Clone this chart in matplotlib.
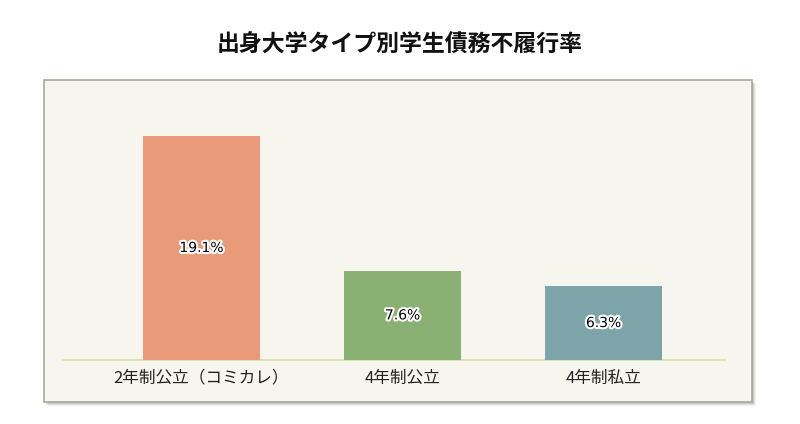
import matplotlib
matplotlib.use("Agg")
import matplotlib.pyplot as plt
from matplotlib.patches import Rectangle
import matplotlib.patheffects as pe

plt.rcParams['font.family'] = ['Noto Sans CJK JP', 'DejaVu Sans']

categories = ['2年制公立（コミカレ）', '4年制公立', '4年制私立']
values = [19.1, 7.6, 6.3]
value_labels = ['19.1%', '7.6%', '6.3%']
colors = ['#E99A78', '#8BB073', '#7CA4A9']
title = '出身大学タイプ別学生債務不履行率'

W, H = 800, 424
fig = plt.figure(figsize=(W / 100, H / 100), dpi=100)

def fx(x):
    return x / W

def fy(y):
    return 1 - y / H

# shadow
for i, a in enumerate([0.10, 0.15, 0.25]):
    off = 4 - i
    fig.patches.append(Rectangle((fx(44 + off), fy(402 + off)), fx(752 - 44), (402 - 80) / H,
                                 transform=fig.transFigure, facecolor='#808078', alpha=a,
                                 edgecolor='none', zorder=0))
# plot area box
fig.patches.append(Rectangle((fx(44), fy(402)), fx(752 - 44), (402 - 80) / H,
                             transform=fig.transFigure, facecolor='#F7F6EE',
                             edgecolor='#A8A8A0', linewidth=1.2, zorder=1))

# data axes
x0, x1 = 63, 725
ytop, ybase = 100, 360
ax = fig.add_axes([fx(x0), fy(ybase), fx(x1 - x0), (ybase - ytop) / H], zorder=2)
ax.patch.set_visible(False)
px_per_unit = 201.0
c0 = 201.5
ax.set_xlim((x0 - c0) / px_per_unit, (x1 - c0) / px_per_unit)
ax.set_ylim(0, (ybase - ytop) / 11.73)

xs = list(range(len(categories)))
bars = ax.bar(xs, values, width=117 / px_per_unit, color=colors, zorder=3)
for x, v, lab in zip(xs, values, value_labels):
    ax.text(x, v / 2, lab, ha='center', va='center', fontsize=10,
            family=['DejaVu Sans'], color='black', zorder=4,
            path_effects=[pe.withStroke(linewidth=3, foreground='white')])

for s in ['top', 'right', 'left']:
    ax.spines[s].set_visible(False)
ax.spines['bottom'].set_color('#DCE2B4')
ax.spines['bottom'].set_linewidth(1.5)
ax.set_yticks([])
ax.set_xticks(xs)
ax.set_xticklabels(categories, fontsize=12, color='#222222')
ax.tick_params(axis='x', length=0, pad=7)

fig.text(0.5, fy(45), title, ha='center', va='center', fontsize=16.5, fontweight='bold', color='#111111')

fig.savefig('out.png', dpi=100, facecolor='white')
